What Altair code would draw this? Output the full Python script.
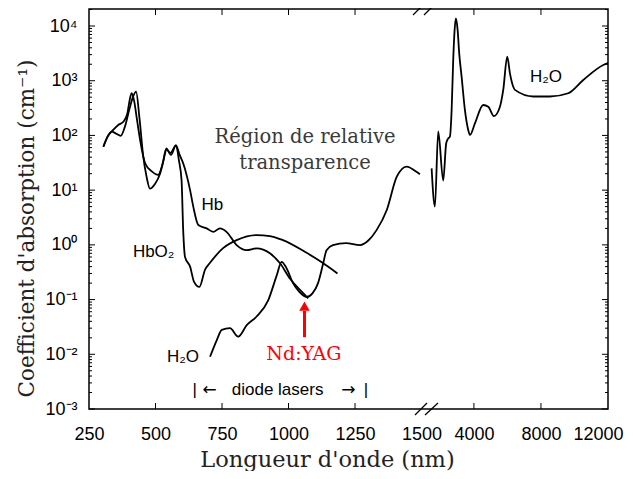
import altair as alt
import pandas as pd

# ---------------- data (wavelength nm, absorption cm^-1) -------------
hb_wl = [304, 320, 335, 352, 369, 385, 401, 415, 427, 440, 454, 466, 479, 498, 517, 530, 541, 556,
         577, 590, 604, 630, 642, 661, 692, 717, 742, 767, 805, 842, 880, 930, 968, 1006, 1056, 1074]
hb_mu = [62, 95, 117, 108, 98, 145, 290, 500, 630, 200, 41, 18, 10.7, 13, 20, 35, 55, 48,
         66, 45, 31, 10, 5.0, 2.3, 2.0, 1.73, 2.0, 1.73, 0.99, 0.80, 0.86, 0.70, 0.46, 0.24, 0.13, 0.105]

hbo2_wl = [304, 320, 341, 360, 379, 394, 402, 410, 420, 430, 442, 461, 486, 510, 525, 541, 558, 577,
           588, 598, 604, 611, 630, 645, 665, 686, 705, 754, 805, 880, 930, 979, 1063, 1128, 1184]
hbo2_mu = [62, 95, 126, 155, 178, 250, 420, 590, 420, 200, 83, 31, 22, 19, 28, 58, 44, 66,
           35, 15, 1.9, 0.6, 0.4, 0.21, 0.17, 0.35, 0.47, 0.87, 1.22, 1.51, 1.45, 1.22, 0.74, 0.47, 0.30]

h2o_vis_wl = [705, 730, 749, 780, 811, 843, 880, 924, 956, 974, 992, 1017, 1040, 1068, 1090, 1111,
              1130, 1143, 1167, 1216, 1269, 1300, 1331, 1369, 1407, 1444, 1481, 1494]
h2o_vis_mu = [0.009, 0.018, 0.028, 0.030, 0.021, 0.034, 0.049, 0.098, 0.28, 0.49, 0.38, 0.20, 0.14,
              0.112, 0.13, 0.20, 0.45, 0.80, 0.99, 1.08, 0.99, 1.2, 1.86, 4.3, 17.6, 27, 21.7, 19.6]

h2o_ir_wl = [1475, 1672, 1869, 2167, 2346, 2466, 2567, 2669, 2764, 2848, 2925, 3027, 3122, 3266, 3463,
             3660, 3761, 4060, 4555, 4854, 5194, 5552, 5749, 5988, 6149, 6346, 6448, 7540, 8537, 9630,
             10525, 11720, 12000]
h2o_ir_mu = [25, 5.0, 118, 15, 72, 88, 95, 288, 2400, 8500, 13800, 8500, 3160, 1180, 290,
             126, 102, 166, 360, 335, 226, 335, 680, 2750, 1365, 777, 680, 515, 515, 590,
             1030, 1940, 2100]

# axis ticks / labels
x_tick_nm = [250, 500, 750, 1000, 1250, 1500, 4000, 8000, 12000]
x_tick_seg = [1, 1, 1, 1, 1, 1, 2, 2, 2]
x_inner_tick_nm = [500, 750, 1000, 1250, 4000, 8000]
x_inner_tick_seg = [1, 1, 1, 1, 2, 2]
y_tick_values = [1e-3, 1e-2, 1e-1, 1e0, 1e1, 1e2, 1e3, 1e4]
y_tick_labels = ["10⁻³", "10⁻²", "10⁻¹", "10⁰", "10¹", "10²", "10³", "10⁴"]

# broken x axis: segment 1 linear 250-1500 nm, segment 2 compressed linear scale
SEG2_ANCHOR_NM = 4000
SEG2_ANCHOR_POS = 1697.0
SEG2_RATIO = 0.063


def axis_pos(nm, seg):
    return nm if seg == 1 else SEG2_ANCHOR_POS + (nm - SEG2_ANCHOR_NM) * SEG2_RATIO


W, H = 519, 400
X_DOMAIN = [250, axis_pos(12000, 2)]
Y_DOMAIN = [1e-3, 20460]
xscale = alt.Scale(domain=X_DOMAIN, nice=False, zero=False)
yscale = alt.Scale(type="log", domain=Y_DOMAIN, nice=False)

rows = []
for name, seg, wl, mu in [("Hb", 1, hb_wl, hb_mu), ("HbO2", 1, hbo2_wl, hbo2_mu),
                          ("H2O_vis", 1, h2o_vis_wl, h2o_vis_mu), ("H2O_ir", 2, h2o_ir_wl, h2o_ir_mu)]:
    for a, b in zip(wl, mu):
        rows.append({"series": name, "seg": seg, "wl": a, "mu": b})
df = pd.DataFrame(rows)

x_positions = [axis_pos(v, s) for v, s in zip(x_tick_nm, x_tick_seg)]
x_label_expr = " : ".join(f"abs(datum.value - {p}) < 1 ? '{v}'" for p, v in zip(x_positions, x_tick_nm)) + " : ''"
y_label_expr = " : ".join(f"abs(log(datum.value)/LN10 - ({k})) < 0.01 ? '{lab}'"
                          for k, lab in zip(range(-3, 5), y_tick_labels)) + " : ''"

xaxis = alt.Axis(values=x_positions, labelExpr=x_label_expr, domain=False, ticks=False, tickSize=0,
                 grid=False, labelFont="Liberation Sans", labelFontSize=18, labelColor="black",
                 labelPadding=16, labelFlush=True, labelFlushOffset=15, labelOverlap=False,
                 title="Longueur d'onde (nm)", titleFont="DejaVu Serif", titleFontSize=22.5,
                 titleFontWeight="normal", titleColor="#222", titleX=238, titleY=57,
                 titleBaseline="alphabetic", titleAlign="center")
yaxis = alt.Axis(values=y_tick_values, labelExpr=y_label_expr, domain=False, ticks=False, tickSize=0,
                 grid=False, labelFont="Liberation Sans", labelFontSize=18, labelColor="black",
                 labelPadding=12, labelFlush=False, labelOverlap=False,
                 title="Coefficient d'absorption (cm⁻¹)", titleFont="DejaVu Serif", titleFontSize=21.5,
                 titleFontWeight="normal", titleColor="#222", titleX=-56, titleY=219, titleAngle=270,
                 titleBaseline="alphabetic", titleAlign="center")

lines = alt.Chart(df).transform_calculate(
    pos=f"datum.seg == 1 ? datum.wl : {SEG2_ANCHOR_POS} + (datum.wl - {SEG2_ANCHOR_NM}) * {SEG2_RATIO}"
).mark_line(color="black", strokeWidth=1.8, interpolate="monotone").encode(
    x=alt.X("pos:Q", scale=xscale, axis=xaxis),
    y=alt.Y("mu:Q", scale=yscale, axis=yaxis),
    detail="series:N",
)

# inward tick marks
minor_vals = [k * 10 ** e for e in range(-3, 4) for k in range(2, 10)] + [2e4]
ymaj = pd.DataFrame({"v": y_tick_values})
ymin = pd.DataFrame({"v": minor_vals})
xt = pd.DataFrame({"p": [axis_pos(v, s) for v, s in zip(x_inner_tick_nm, x_inner_tick_seg)]})


def yticks(frame, x1, x2):
    return alt.Chart(frame).mark_rule(color="black", strokeWidth=1).encode(
        y=alt.Y("v:Q", scale=yscale), x=alt.value(x1), x2=alt.value(x2))


def xticks(y1, y2):
    return alt.Chart(xt).mark_rule(color="black", strokeWidth=1).encode(
        x=alt.X("p:Q", scale=xscale), y=alt.value(y1), y2=alt.value(y2))


ticks = [yticks(ymaj, 0, 6), yticks(ymin, 0, 3), yticks(ymaj, W - 6, W), yticks(ymin, W - 3, W),
         xticks(H - 6, H), xticks(0, 6)]

one = pd.DataFrame({"a": [0]})


def label(text, nm, seg, mu, font, size, color="black", align="left", baseline="alphabetic"):
    return alt.Chart(one).mark_text(text=text, font=font, fontSize=size, color=color, align=align,
                                    baseline=baseline).encode(
        x=alt.XDatum(axis_pos(nm, seg), scale=xscale),
        y=alt.YDatum(mu, scale=yscale))


texts = [
    label("Région de relative", 1062, 1, 93.5, "DejaVu Serif", 19.5, "#3a3a3a", "center", "middle"),
    label("transparence", 1062, 1, 31.3, "DejaVu Serif", 19.5, "#3a3a3a", "center", "middle"),
    label("Hb", 673, 1, 4.33, "Liberation Sans", 17),
    label("HbO₂", 415, 1, 0.60, "Liberation Sans", 17),
    label("H₂O", 543, 1, 0.0073, "Liberation Sans", 17),
    label("H₂O", 7343, 2, 955, "Liberation Sans", 17),
    label("Nd:YAG", 1058, 1, 0.0078, "DejaVu Serif", 19, "#ff0000", "center"),
    label("|", 647, 1, 0.0018, "Liberation Sans", 17, "black", "center"),
    label("←", 703, 1, 0.0018, "DejaVu Sans", 17, "black", "center"),
    label("diode lasers", 959, 1, 0.0018, "Liberation Sans", 17, "black", "center"),
    label("→", 1225, 1, 0.0018, "DejaVu Sans", 17, "black", "center"),
    label("|", 1291, 1, 0.0018, "Liberation Sans", 17, "black", "center"),
]

arrow_shaft = alt.Chart(one).mark_rule(color="#ff0000", strokeWidth=3).encode(
    x=alt.XDatum(1060, scale=xscale),
    y=alt.YDatum(0.0206, scale=yscale), y2=alt.Y2Datum(0.062))
arrow_head = alt.Chart(one).mark_point(shape="triangle-up", filled=True, size=110, color="#ff0000",
                                       opacity=1).encode(
    x=alt.XDatum(1060, scale=xscale),
    y=alt.YDatum(0.076, scale=yscale))


# axis break marks
def slash(x1, y1, x2, y2):
    return alt.Chart(one).mark_rule(color="black", strokeWidth=1.3).encode(
        x=alt.value(x1), y=alt.value(y1), x2=alt.value(x2), y2=alt.value(y2))


breaks = [slash(326, 406, 338, 394), slash(336, 406, 349, 394),
          slash(324, 6, 336, -6), slash(335, 6, 347, -6)]

chart = alt.layer(lines, *ticks, *texts, arrow_shaft, arrow_head, *breaks).properties(
    width=W, height=H,
    padding={"left": 81, "top": 1, "right": 17, "bottom": 62},
    autosize=alt.AutoSizeParams(type="none"),
    background="white",
).configure_view(stroke="black", strokeWidth=1.5)

chart.save("out.html", embed_options={"renderer": "svg", "actions": False})
